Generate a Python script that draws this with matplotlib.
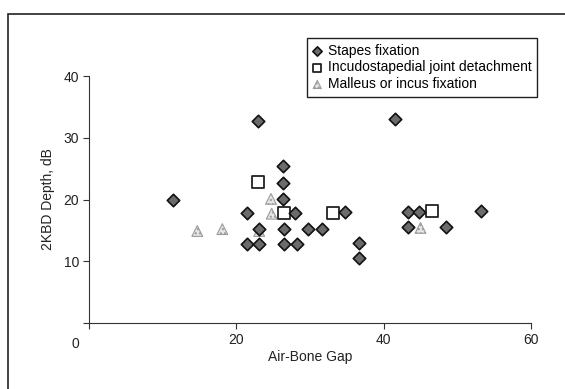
import matplotlib
matplotlib.use("Agg")
import matplotlib.pyplot as plt
from matplotlib.patches import Rectangle

plt.rcParams['font.family'] = ['Liberation Sans Narrow', 'Liberation Sans', 'DejaVu Sans']

stapes_x = [11.4, 23.0, 41.5, 26.4, 26.4, 26.4, 21.4, 28.0, 34.8, 43.3, 44.8, 53.2,
            23.1, 26.5, 29.7, 31.6, 43.3, 48.4, 21.4, 23.1, 26.5, 28.2, 36.6, 36.6]
stapes_y = [20.0, 32.7, 33.0, 25.4, 22.7, 20.1, 17.8, 17.8, 18.0, 18.0, 18.0, 18.1,
            15.3, 15.2, 15.3, 15.3, 15.6, 15.6, 12.8, 12.8, 12.8, 12.8, 13.0, 10.5]
incudo_x = [23.0, 26.5, 33.1, 46.6]
incudo_y = [22.8, 17.8, 17.8, 18.1]
malleus_x = [14.7, 18.1, 23.1, 24.7, 24.8, 45.0]
malleus_y = [14.9, 15.2, 14.9, 20.1, 17.7, 15.4]

labels = ['Stapes fixation', 'Incudostapedial joint detachment', 'Malleus or incus fixation']
xticks = [0, 20, 40, 60]
xticklabels = ['', '20', '40', '60']
yticks = [0, 10, 20, 30, 40]
yticklabels = ['', '10', '20', '30', '40']

W, H = 565, 389
fig = plt.figure(figsize=(W / 100, H / 100), dpi=100)
ax = fig.add_axes([89 / W, 1 - 323 / H, (531 - 89) / W, (323 - 76) / H])

ax.scatter(malleus_x, malleus_y, marker='^', s=60, facecolor='#e6e6e6', edgecolor='#9a9a9a',
           linewidths=0.8, hatch='....', label=labels[2], zorder=3)
ax.scatter(incudo_x, incudo_y, marker='s', s=70, facecolor='white', edgecolor='#222222',
           linewidths=1.3, label=labels[1], zorder=4)
ax.scatter(stapes_x, stapes_y, marker='D', s=40, facecolor='#6b6b6b', edgecolor='#111111',
           linewidths=1.2, label=labels[0], zorder=5)

ax.set_xlim(0, 60)
ax.set_ylim(0, 40)
ax.set_xticks(xticks)
ax.set_xticklabels(xticklabels)
ax.set_yticks(yticks)
ax.set_yticklabels(yticklabels)
ax.spines['top'].set_visible(False)
ax.spines['right'].set_visible(False)
ax.spines['left'].set_color('#333333')
ax.spines['bottom'].set_color('#333333')
ax.tick_params(axis='both', length=4, width=0.8, colors='#333333', labelcolor='#222222',
               labelsize=10, pad=3)
ax.text(-1.8, -2.2, '0', ha='center', va='top', fontsize=10, color='#222222')

ax.set_xlabel('Air-Bone Gap', fontsize=10, color='#222222', labelpad=2)
ax.set_ylabel('2KBD Depth, dB', fontsize=10, color='#222222', labelpad=6)

handles, labs = ax.get_legend_handles_labels()
order = [2, 1, 0]
leg = ax.legend([handles[i] for i in order], [labs[i] for i in order],
                loc='upper right', bbox_to_anchor=(537 / W, 1 - 38 / H),
                bbox_transform=fig.transFigure, borderaxespad=0, fancybox=False,
                edgecolor='#222222', framealpha=1, fontsize=10, handlelength=0.7,
                handletextpad=0.4, labelspacing=0.2, borderpad=0.4, scatterpoints=1,
                markerscale=0.75)
leg.get_frame().set_linewidth(1.0)

fig.patches.append(Rectangle((8 / W, -0.1), 1.2, 1.1 - 14 / H, transform=fig.transFigure,
                             fill=False, edgecolor='#222222', linewidth=1.2))

fig.savefig('out.png', dpi=100)
